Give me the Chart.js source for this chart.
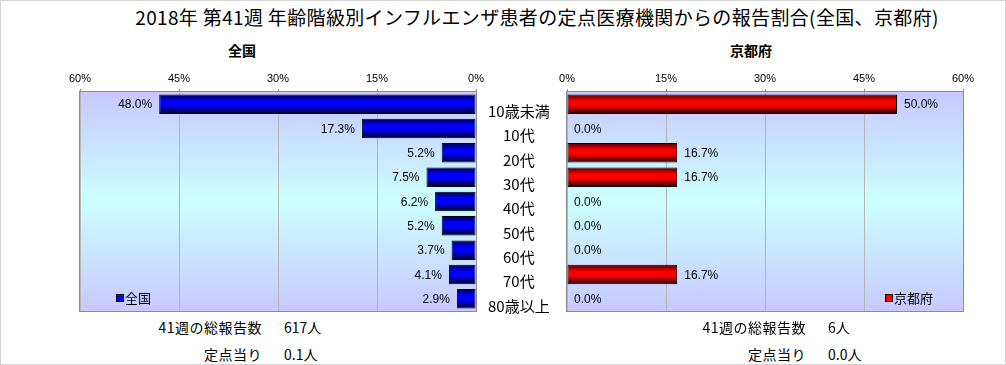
<!DOCTYPE html>
<html>
<head>
<meta charset="utf-8">
<script src="https://cdn.jsdelivr.net/npm/chart.js@4.4.1/dist/chart.umd.min.js"></script>
<style>
  body { margin: 0; width: 1006px; height: 365px; position: relative; background: #fff; overflow: hidden;
         font-family: "Noto Sans CJK JP", sans-serif; color: #000; }
  .frame { position: absolute; left: 0; top: 0; width: 1004px; height: 363px; border: 1px solid #d4d4d4; }
  .txt { position: absolute; white-space: nowrap; line-height: 1; }
  .c { transform: translateX(-50%); }
  .r { transform: translateX(-100%); }
  canvas { position: absolute; }
</style>
</head>
<body>
<div class="frame"></div>
<div class="txt c" style="left:537px;top:7px;font-size:19px;letter-spacing:0.35px;">2018年 第41週 年齢階級別インフルエンザ患者の定点医療機関からの報告割合(全国、京都府)</div>
<div class="txt c" style="left:242px;top:43px;font-size:14px;font-weight:bold;">全国</div>
<div class="txt c" style="left:751px;top:43px;font-size:14px;font-weight:bold;">京都府</div>

<canvas id="chart-national" width="507" height="259" style="left:60px;top:56px;"></canvas>
<canvas id="chart-kyoto" width="436" height="259" style="left:547px;top:56px;"></canvas>

<div class="txt r" style="left:262px;top:320px;font-size:14px;letter-spacing:0.5px;">41週の総報告数</div>
<div class="txt" style="left:284px;top:320px;font-size:14px;">617人</div>
<div class="txt r" style="left:262px;top:347px;font-size:14px;letter-spacing:0.5px;">定点当り</div>
<div class="txt" style="left:284px;top:347px;font-size:14px;">0.1人</div>
<div class="txt r" style="left:806px;top:320px;font-size:14px;letter-spacing:0.5px;">41週の総報告数</div>
<div class="txt" style="left:828px;top:320px;font-size:14px;">6人</div>
<div class="txt r" style="left:806px;top:347px;font-size:14px;letter-spacing:0.5px;">定点当り</div>
<div class="txt" style="left:828px;top:347px;font-size:14px;">0.0人</div>

<script>
// age groups and report share (%)
const ageGroups = ['10歳未満', '10代', '20代', '30代', '40代', '50代', '60代', '70代', '80歳以上'];
const nationalShare = [48.0, 17.3, 5.2, 7.5, 6.2, 5.2, 3.7, 4.1, 2.9];
const kyotoShare = [50.0, 0.0, 16.7, 16.7, 0.0, 0.0, 0.0, 16.7, 0.0];
const axisMax = 60;
const axisStep = 15;

Chart.defaults.font.family = '"Liberation Sans", Arial, sans-serif';
Chart.defaults.font.size = 11;
Chart.defaults.color = '#000';

// lavender -> cyan -> lavender plot fill, grey frame
const plotBg = {
  id: 'plotBg',
  beforeDraw(chart) {
    const { ctx, chartArea: a } = chart;
    const g = ctx.createLinearGradient(0, a.top, 0, a.bottom);
    g.addColorStop(0, '#c8c8ff');
    g.addColorStop(0.5, '#ccffff');
    g.addColorStop(1, '#c8c8ff');
    ctx.save();
    ctx.fillStyle = g;
    ctx.fillRect(a.left, a.top, a.right - a.left, a.bottom - a.top);
    ctx.restore();
  },
  beforeDatasetsDraw(chart) {
    const { ctx, chartArea: a } = chart;
    ctx.save();
    ctx.strokeStyle = '#8c8c8c';
    ctx.lineWidth = 1;
    ctx.strokeRect(Math.round(a.left) - 0.5, Math.round(a.top) - 0.5,
      Math.round(a.right - a.left) + 1, Math.round(a.bottom - a.top) + 1);
    ctx.restore();
  }
};

// value text next to each bar end
const valueLabels = {
  id: 'valueLabels',
  afterDatasetsDraw(chart, args, opts) {
    const ctx = chart.ctx;
    const meta = chart.getDatasetMeta(0);
    const values = chart.data.datasets[0].data;
    ctx.save();
    ctx.font = '12px "Liberation Sans", Arial, sans-serif';
    ctx.fillStyle = '#000';
    ctx.textBaseline = 'middle';
    ctx.textAlign = opts.side === 'left' ? 'right' : 'left';
    meta.data.forEach((bar, i) => {
      const x = opts.side === 'left' ? bar.x - 7 : bar.x + 7;
      ctx.fillText(values[i].toFixed(1) + '%', x, bar.y + 1);
    });
    ctx.restore();
  }
};

// small legend box inside the plot
const cornerLegend = {
  id: 'cornerLegend',
  afterDatasetsDraw(chart, args, opts) {
    const { ctx, chartArea: a } = chart;
    const x = opts.side === 'left' ? a.left + 37 : a.right - 77;
    const y = a.bottom - 13;
    ctx.save();
    ctx.fillStyle = opts.color;
    ctx.fillRect(x, y - 3, 6, 6);
    ctx.strokeStyle = '#000';
    ctx.strokeRect(x - 0.5, y - 3.5, 7, 7);
    ctx.fillStyle = '#000';
    ctx.font = '13px "Noto Sans CJK JP", sans-serif';
    ctx.textBaseline = 'middle';
    ctx.textAlign = 'left';
    ctx.fillText(chart.data.datasets[0].label, x + 8, y);
    ctx.restore();
  }
};

function barGradient(dark, bright, deep) {
  return (c) => {
    const chart = c.chart;
    const y = chart.scales.y;
    if (!y || !chart.chartArea || c.dataIndex === undefined) return bright;
    const center = y.getPixelForValue(c.dataIndex);
    const half = Math.abs(y.getPixelForValue(1) - y.getPixelForValue(0)) * 0.4;
    const g = chart.ctx.createLinearGradient(0, center - half, 0, center + half);
    g.addColorStop(0, dark);
    g.addColorStop(0.35, bright);
    g.addColorStop(0.55, bright);
    g.addColorStop(1, deep);
    return g;
  };
}

function xAxis(reverse) {
  return {
    position: 'top',
    reverse: reverse,
    min: 0,
    max: axisMax,
    ticks: { stepSize: axisStep, callback: v => v + '%', padding: 3, autoSkip: false, font: { size: 11 } },
    grid: { color: '#b4b4b4', tickLength: 3, tickColor: '#8c8c8c' },
    border: { display: false },
    afterFit: axis => { axis.height = 36; }
  };
}

new Chart(document.getElementById('chart-national'), {
  type: 'bar',
  data: {
    labels: ageGroups,
    datasets: [{
      label: '全国',
      data: nationalShare,
      backgroundColor: barGradient('#000050', '#0000ff', '#000028'),
      borderColor: '#000',
      borderWidth: 1,
      borderSkipped: false,
      barPercentage: 0.8,
      categoryPercentage: 1
    }]
  },
  options: {
    indexAxis: 'y',
    responsive: false,
    animation: false,
    devicePixelRatio: 1,
    layout: { padding: { left: 20, right: 0, top: 0, bottom: 4 } },
    scales: {
      x: xAxis(true),
      y: {
        position: 'right',
        grid: { display: false },
        border: { display: false },
        ticks: { crossAlign: 'center', padding: 4, labelOffset: 7,
                 font: { family: '"Noto Sans CJK JP", sans-serif', size: 15 } },
        // fixed label column, no extra vertical padding for the offset labels
        afterFit: axis => { axis.width = 91; axis.paddingTop = 0; axis.paddingBottom = 0; }
      }
    },
    plugins: {
      legend: { display: false },
      tooltip: { enabled: false },
      valueLabels: { side: 'left' },
      cornerLegend: { side: 'left', color: '#0000ff' }
    }
  },
  plugins: [plotBg, valueLabels, cornerLegend]
});

new Chart(document.getElementById('chart-kyoto'), {
  type: 'bar',
  data: {
    labels: ageGroups,
    datasets: [{
      label: '京都府',
      data: kyotoShare,
      backgroundColor: barGradient('#500000', '#ff0000', '#280000'),
      borderColor: '#000',
      borderWidth: 1,
      borderSkipped: false,
      barPercentage: 0.8,
      categoryPercentage: 1
    }]
  },
  options: {
    indexAxis: 'y',
    responsive: false,
    animation: false,
    devicePixelRatio: 1,
    layout: { padding: { left: 20, right: 20, top: 0, bottom: 4 } },
    scales: {
      x: xAxis(false),
      y: { display: false }
    },
    plugins: {
      legend: { display: false },
      tooltip: { enabled: false },
      valueLabels: { side: 'right' },
      cornerLegend: { side: 'right', color: '#ff0000' }
    }
  },
  plugins: [plotBg, valueLabels, cornerLegend]
});
</script>
</body>
</html>
